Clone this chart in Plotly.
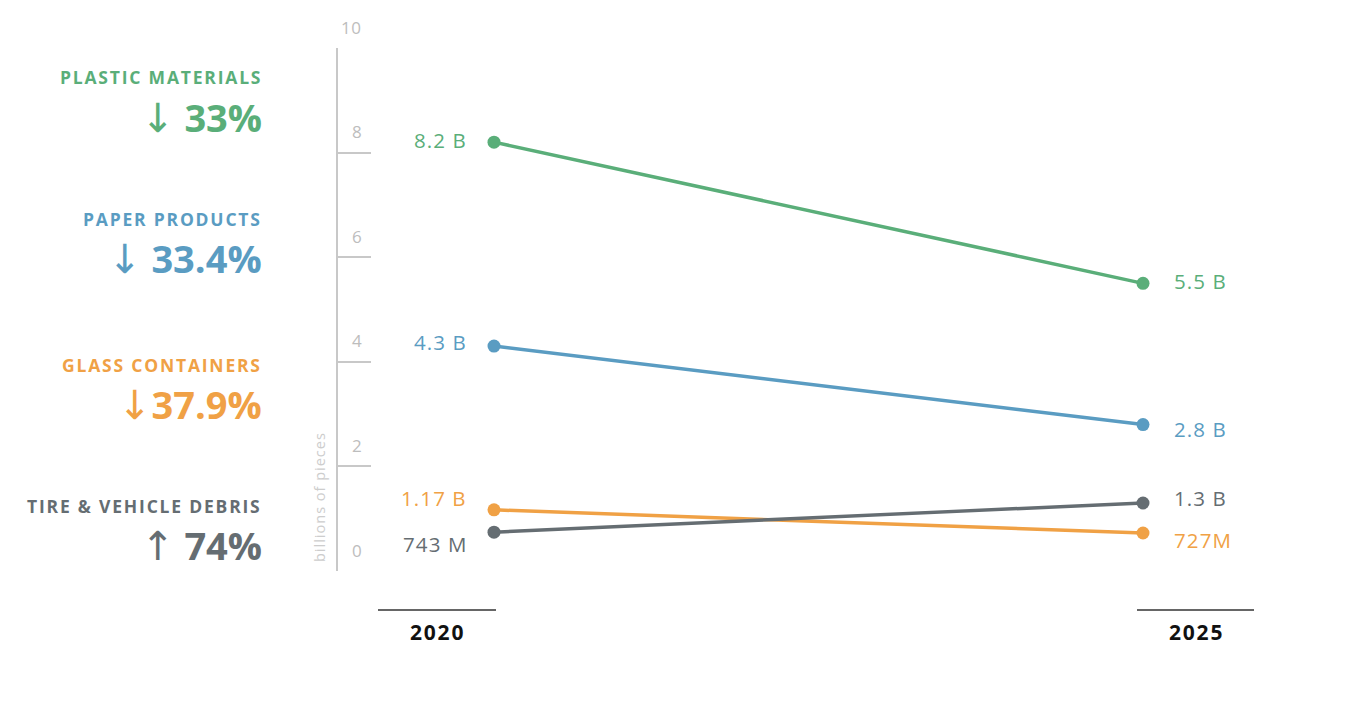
import plotly.graph_objects as go

years = ["2020", "2025"]
year_x = [2020, 2025]
series_names = ["PLASTIC MATERIALS", "PAPER PRODUCTS", "GLASS CONTAINERS", "TIRE & VEHICLE DEBRIS"]
arrows = ["↓", "↓", "↓", "↑"]
changes = [" 33%", " 33.4%", "37.9%", " 74%"]
plastic = [8.2, 5.5]
paper = [4.3, 2.8]
glass = [1.17, 0.727]
tire = [0.743, 1.3]
plastic_lbl = ["8.2 B", "5.5 B"]
paper_lbl = ["4.3 B", "2.8 B"]
glass_lbl = ["1.17 B", "727M"]
tire_lbl = ["743 M", "1.3 B"]
y_ticks = [0, 2, 4, 6, 8, 10]

colors = ["#5aae79", "#5a9cc2", "#f0a145", "#656d72"]
FONT = "Open Sans"
OFF = 8  # page body margin
W, H = 1347 - 2 * OFF, 713 - 2 * OFF
L = 338 - OFF
T = 48 - OFF
R = W - (1254 - OFF)
B = H - (571 - OFF)
PW = W - L - R
PH = H - T - B
PPY = 129.8
X0 = 2020 - ((494 - OFF) - L) / PPY
X1 = X0 + PW / PPY


def px_x(p):
    return X0 + ((p - OFF) - L) / PPY


def px_paper_x(p):
    return ((p - OFF) - L) / PW


def px_paper_y(p):
    return 1 - ((p - OFF) - T) / PH


def spaced(txt, sp):
    return "<span style=\"letter-spacing:%spx\">%s</span>" % (sp, txt)


fig = go.Figure()
values = [plastic, paper, glass, tire]
labels = [plastic_lbl, paper_lbl, glass_lbl, tire_lbl]
for name, vals, col in zip(series_names, values, colors):
    fig.add_trace(go.Scatter(x=year_x, y=vals, mode="lines+markers", name=name,
                             line=dict(color=col, width=3.5),
                             marker=dict(color=col, size=13),
                             cliponaxis=False, hoverinfo="skip"))

ann = []
left_shift = [2, 4, 12, -12]
right_shift = [2, -4, -7, 5]
for i, (vals, lbls, col) in enumerate(zip(values, labels, colors)):
    ann.append(dict(x=year_x[0], y=vals[0], text=spaced(lbls[0], 1.1), xref="x", yref="y",
                    xanchor="right", yanchor="middle", xshift=-25, yshift=left_shift[i],
                    showarrow=False, font=dict(family=FONT, size=20.5, color=col)))
    ann.append(dict(x=year_x[1], y=vals[1], text=spaced(lbls[1], 1.1), xref="x", yref="y",
                    xanchor="left", yanchor="middle", xshift=29, yshift=right_shift[i],
                    showarrow=False, font=dict(family=FONT, size=20.5, color=col)))

# y tick labels above tick lines
for t in y_ticks:
    ann.append(dict(x=px_paper_x(364), y=t, xref="paper", yref="y", text=spaced(str(t), 0.6),
                    xanchor="right", yanchor="middle", yshift=21, showarrow=False,
                    font=dict(family=FONT, size=17, color="#bdbdbd")))

ann.append(dict(x=px_paper_x(319), y=px_paper_y(497), xref="paper", yref="paper",
                text=spaced("billions of pieces", 1), textangle=-90, showarrow=False,
                xanchor="center", yanchor="middle",
                font=dict(family=FONT, size=14.5, color="#cdcdcd")))

# left-side category headers
head_y = [77, 219, 365, 506]
chg_y = [117, 258, 404, 545]
for name, arr, chg, col, hy, cy in zip(series_names, arrows, changes, colors, head_y, chg_y):
    ann.append(dict(x=px_paper_x(264), y=px_paper_y(hy), xref="paper", yref="paper",
                    text="<b>" + spaced(name, 1.8) + "</b>",
                    xanchor="right", yanchor="middle", showarrow=False,
                    font=dict(family=FONT, size=17.5, color=col)))
    ann.append(dict(x=px_paper_x(264), y=px_paper_y(cy), xref="paper", yref="paper",
                    text="<span style=\"font-family:DejaVu Sans;font-weight:normal;font-size:40px\">" + arr +
                         "</span><b>" + chg + "</b>",
                    xanchor="right", yanchor="middle", showarrow=False,
                    font=dict(family=FONT, size=38, color=col)))

# year labels and baseline segments
year_centers = [437, 1196]
shapes = []
for yr, cx in zip(years, year_centers):
    shapes.append(dict(type="line", xref="x", yref="paper",
                       x0=px_x(cx - 59), x1=px_x(cx + 59),
                       y0=px_paper_y(610), y1=px_paper_y(610),
                       line=dict(color="#333333", width=1.3)))
    ann.append(dict(x=px_x(cx), y=px_paper_y(632), xref="x", yref="paper",
                    text="<b>" + spaced(yr, 1.8) + "</b>",
                    xanchor="center", yanchor="middle", showarrow=False,
                    font=dict(family=FONT, size=21, color="#111111")))

fig.update_layout(
    width=W, height=H, margin=dict(l=L, r=R, t=T, b=B),
    paper_bgcolor="white", plot_bgcolor="white", showlegend=False,
    annotations=ann, shapes=shapes,
    xaxis=dict(range=[X0, X1], visible=False, fixedrange=True),
    yaxis=dict(range=[0, 10], tickvals=y_ticks, showticklabels=False, showgrid=False,
               zeroline=False, showline=True, linecolor="#c8c8c8", linewidth=1.5,
               ticks="inside", ticklen=33, tickcolor="#c8c8c8", tickwidth=1.5,
               fixedrange=True),
)
fig.write_html("out.html")
